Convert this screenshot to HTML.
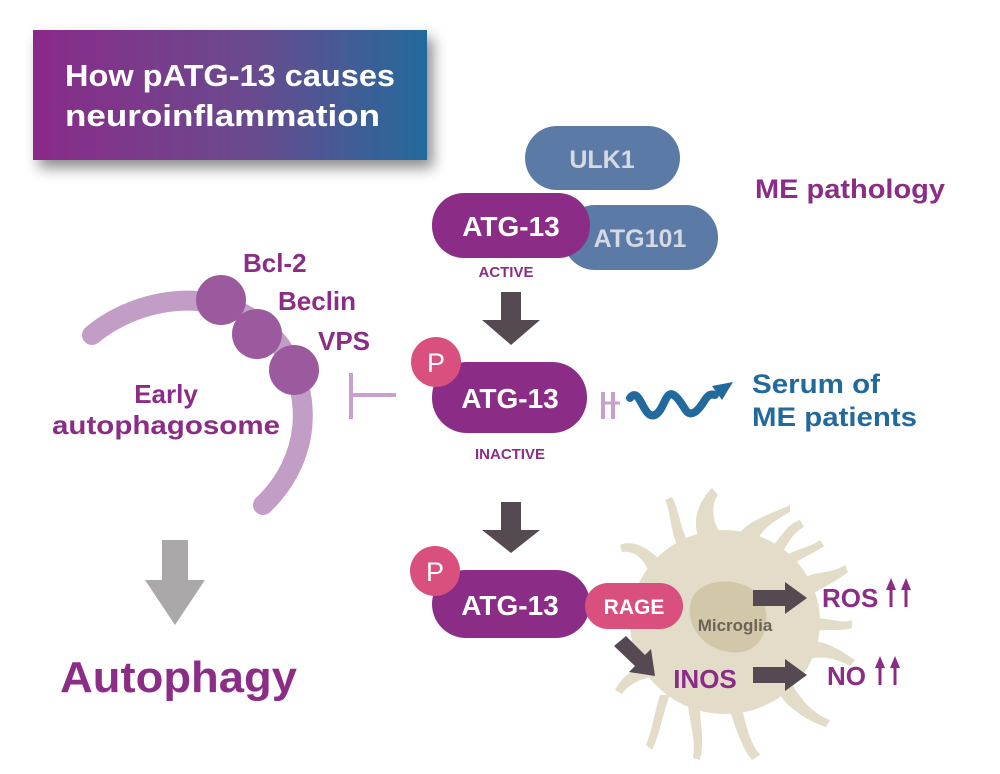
<!DOCTYPE html>
<html><head><meta charset="utf-8"><style>
html,body{margin:0;padding:0;background:#fff;}
svg{display:block;font-family:"Liberation Sans",sans-serif;}
</style></head><body>
<svg width="1000" height="774" viewBox="0 0 1000 774" xmlns="http://www.w3.org/2000/svg">
<defs>
<linearGradient id="tg" x1="0" x2="1" y1="0" y2="0">
<stop offset="0" stop-color="#8a2a88"/><stop offset="0.55" stop-color="#6a4a8e"/><stop offset="1" stop-color="#236a9c"/>
</linearGradient>
<filter id="sh" x="-10%" y="-10%" width="130%" height="140%"><feDropShadow dx="6" dy="8" stdDeviation="7" flood-color="#000" flood-opacity="0.45"/></filter>
</defs>
<rect x="33" y="30" width="394" height="130" fill="url(#tg)" filter="url(#sh)"/>
<text x="65" y="86" fill="#fff" font-size="31" font-weight="bold" textLength="330" lengthAdjust="spacingAndGlyphs">How pATG-13 causes</text>
<text x="65" y="126" fill="#fff" font-size="31" font-weight="bold" textLength="315" lengthAdjust="spacingAndGlyphs">neuroinflammation</text>

<!-- top complex -->
<rect x="525" y="126" width="155" height="64" rx="32" fill="#5b7ba6"/>
<text x="602" y="168" fill="#d5d9e3" font-size="25" font-weight="bold" text-anchor="middle">ULK1</text>
<rect x="563" y="205" width="155" height="65" rx="32" fill="#5b7ba6"/>
<text x="640" y="247" fill="#d5d9e3" font-size="25" font-weight="bold" text-anchor="middle">ATG101</text>
<rect x="432" y="193" width="158" height="65" rx="32" fill="#8b2d86"/>
<text x="511" y="236" fill="#fff" font-size="28" font-weight="bold" text-anchor="middle">ATG-13</text>
<text x="506" y="277" fill="#8b2d86" font-size="15" font-weight="bold" text-anchor="middle">ACTIVE</text>
<text x="755" y="198" fill="#8b2d86" font-size="27" font-weight="bold" textLength="190" lengthAdjust="spacingAndGlyphs">ME pathology</text>

<!-- arrow 1 -->
<polygon points="501,292 521,292 521,320 540,320 511,345 482,320 501,320" fill="#554a52"/>

<!-- inactive -->
<rect x="432" y="362" width="155" height="71" rx="35" fill="#8b2d86"/>
<circle cx="436" cy="362" r="25" fill="#d9507f"/>
<text x="436" y="372" fill="#fff" font-size="27" text-anchor="middle">P</text>
<text x="510" y="408" fill="#fff" font-size="28" font-weight="bold" text-anchor="middle">ATG-13</text>
<text x="510" y="459" fill="#8b2d86" font-size="15" font-weight="bold" text-anchor="middle">INACTIVE</text>
<line x1="350" y1="395" x2="396" y2="395" stroke="#c9a0cc" stroke-width="4"/>
<line x1="351" y1="373" x2="351" y2="419" stroke="#c9a0cc" stroke-width="4"/>
<line x1="603" y1="392" x2="603" y2="419" stroke="#c9a0cc" stroke-width="4"/>
<line x1="613" y1="392" x2="613" y2="419" stroke="#c9a0cc" stroke-width="4"/>
<line x1="605" y1="403" x2="620" y2="403" stroke="#c9a0cc" stroke-width="3"/>
<path d="M630,398 C640,385 643,420 655,415 C665,410 665,388 675,396 C685,404 685,418 695,412 C705,405 705,392 715,395" fill="none" stroke="#236a9c" stroke-width="8" stroke-linecap="round"/>
<polygon points="733,382 712,386 722,400" fill="#236a9c"/>
<text x="752" y="393" fill="#236a9c" font-size="27" font-weight="bold" textLength="128" lengthAdjust="spacingAndGlyphs">Serum of</text>
<text x="752" y="426" fill="#236a9c" font-size="27" font-weight="bold" textLength="165" lengthAdjust="spacingAndGlyphs">ME patients</text>

<!-- arrow 2 -->
<polygon points="501,502 521,502 521,530 540,530 511,553 482,530 501,530" fill="#554a52"/>

<!-- microglia -->
<g fill="#e3dcc9">
<ellipse cx="725" cy="622" rx="95" ry="92"/>
<path d="M700,540 C690,520 700,500 712,488 L718,495 C710,505 712,525 725,540Z"/>
<path d="M735,540 C745,520 770,515 790,505 L790,512 C775,520 760,530 755,545Z"/>
<path d="M660,560 C645,545 630,540 620,545 L622,552 C635,550 645,560 650,575Z"/>
<path d="M640,590 C625,585 615,595 608,605 L614,610 C622,600 632,600 640,605Z"/>
<path d="M800,580 C815,570 830,575 845,565 L848,572 C832,585 815,590 805,600Z"/>
<path d="M810,620 C825,615 840,625 852,620 L852,628 C840,632 825,628 810,632Z"/>
<path d="M805,640 C825,640 840,650 855,660 L850,666 C835,658 820,655 805,660Z"/>
<path d="M790,680 C800,700 815,715 830,720 L826,727 C810,722 790,710 780,695Z"/>
<path d="M740,700 C745,720 748,740 760,755 L752,760 C740,745 735,725 728,705Z"/>
<path d="M700,705 C700,725 705,740 700,760 L693,758 C696,740 690,725 688,705Z"/>
<path d="M670,695 C662,715 660,735 652,750 L646,745 C652,730 654,715 660,695Z"/>
<path d="M650,660 C630,670 620,680 615,690 L622,694 C630,683 642,678 660,675Z"/>
<path d="M765,555 C780,540 785,525 800,520 L804,527 C790,534 785,550 775,565Z"/>
<path d="M680,550 C670,535 672,515 665,500 L672,497 C680,512 680,530 690,545Z"/>
<path d="M780,560 C795,548 810,548 820,540 L824,546 C812,555 798,558 788,570Z"/>
</g>
<path d="M690,605 C695,575 745,575 762,598 C772,620 765,648 742,652 C715,656 686,635 690,605Z" fill="#d2c7a8"/>

<!-- third ATG -->
<rect x="432" y="570" width="158" height="68" rx="34" fill="#8b2d86"/>
<circle cx="435" cy="571" r="25" fill="#d9507f"/>
<text x="435" y="581" fill="#fff" font-size="27" text-anchor="middle">P</text>
<text x="510" y="615" fill="#fff" font-size="28" font-weight="bold" text-anchor="middle">ATG-13</text>
<rect x="585" y="583" width="98" height="46" rx="23" fill="#d9507f"/>
<text x="634" y="614" fill="#fff" font-size="21" font-weight="bold" text-anchor="middle">RAGE</text>
<text x="735" y="631" fill="#6b6456" font-size="17" font-weight="bold" text-anchor="middle">Microglia</text>
<polygon points="753,590 785,590 785,582 807,598 785,614 785,606 753,606" fill="#554a52"/>
<polygon points="753,667 785,667 785,659 807,675 785,691 785,683 753,683" fill="#554a52"/>
<polygon points="614,646 626,636 645,655 651,649 655,676 629,672 635,666" fill="#554a52"/>
<text x="705" y="688" fill="#8b2d86" font-size="26" font-weight="bold" text-anchor="middle">INOS</text>
<text x="822" y="607" fill="#8b2d86" font-size="26" font-weight="bold">ROS</text>
<text x="827" y="685" fill="#8b2d86" font-size="26" font-weight="bold">NO</text>
<g fill="#8b2d86" stroke="#8b2d86">
<line x1="891" y1="588" x2="891" y2="607" stroke-width="3"/><polygon points="886,590 891,578 896,590" stroke="none"/>
<line x1="906" y1="588" x2="906" y2="607" stroke-width="3"/><polygon points="901,590 906,578 911,590" stroke="none"/>
<line x1="880" y1="666" x2="880" y2="685" stroke-width="3"/><polygon points="875,668 880,656 885,668" stroke="none"/>
<line x1="895" y1="666" x2="895" y2="685" stroke-width="3"/><polygon points="890,668 895,656 900,668" stroke="none"/>
</g>

<!-- left -->
<path d="M92,335 C140,295 230,280 280,345 C315,395 310,460 263,505" fill="none" stroke="#c29ec6" stroke-width="20" stroke-linecap="round"/>
<circle cx="221" cy="300" r="25" fill="#9b5a9e"/>
<circle cx="257" cy="334" r="25" fill="#9b5a9e"/>
<circle cx="294" cy="370" r="25" fill="#9b5a9e"/>
<text x="243" y="272" fill="#8b2d86" font-size="26" font-weight="bold">Bcl-2</text>
<text x="278" y="310" fill="#8b2d86" font-size="26" font-weight="bold">Beclin</text>
<text x="318" y="350" fill="#8b2d86" font-size="26" font-weight="bold">VPS</text>
<text x="166" y="403" fill="#8b2d86" font-size="26" font-weight="bold" text-anchor="middle">Early</text>
<text x="166" y="434" fill="#8b2d86" font-size="26" font-weight="bold" text-anchor="middle" textLength="228" lengthAdjust="spacingAndGlyphs">autophagosome</text>
<polygon points="162,540 188,540 188,580 205,580 175,625 145,580 162,580" fill="#aaa8a8"/>
<text x="60" y="692" fill="#8b2d86" font-size="44" font-weight="bold" textLength="237" lengthAdjust="spacingAndGlyphs">Autophagy</text>
</svg>
</body></html>
